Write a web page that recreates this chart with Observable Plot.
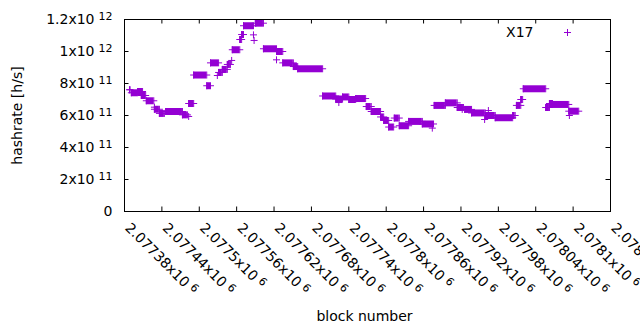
<!DOCTYPE html>
<html><head><meta charset="utf-8">
<script src="https://cdn.jsdelivr.net/npm/d3@7"></script>
<script src="https://cdn.jsdelivr.net/npm/@observablehq/plot@0.6"></script>
<style>body{margin:0;background:#fff;}</style>
</head><body><div id="chart"></div>
<script>
// runs of equal hashrate (block range, value)
const runStart = [2077388,2077391,2077401,2077407,2077415,2077428,2077428,2077436,2077446,2077473,2077483,2077483,2077491,2077512,2077518,2077529,2077531,2077537,2077545,2077552,2077553,2077565,2077568,2077571,2077587,2077588,2077590,2077603,2077624,2077624,2077634,2077651,2077658,2077698,2077719,2077724,2077730,2077740,2077751,2077768,2077776,2077791,2077796,2077804,2077813,2077821,2077836,2077858,2077874,2077877,2077895,2077914,2077922,2077926,2077937,2077958,2077964,2077959,2077975,2078003,2078009,2078016,2078020,2078056,2078062,2078067,2078093,2078094];
const runEnd   = [2077389,2077401,2077409,2077414,2077427,2077428,2077436,2077444,2077473,2077481,2077483,2077491,2077512,2077518,2077531,2077529,2077537,2077545,2077550,2077552,2077565,2077568,2077571,2077587,2077587,2077588,2077603,2077624,2077634,2077624,2077651,2077658,2077698,2077719,2077730,2077724,2077740,2077751,2077767,2077776,2077791,2077796,2077804,2077812,2077821,2077836,2077858,2077876,2077874,2077895,2077914,2077924,2077922,2077937,2077959,2077958,2077964,2077975,2078003,2078007,2078016,2078019,2078056,2078062,2078067,2078093,2078109,2078094];
const runHashrate = [7.61e11,7.42e11,7.50e11,7.25e11,6.92e11,6.52e11,6.39e11,6.13e11,6.25e11,6.04e11,5.94e11,6.75e11,8.53e11,7.86e11,9.29e11,8.50e11,8.69e11,8.88e11,9.19e11,9.44e11,10.11e11,10.75e11,11.06e11,11.61e11,11.04e11,10.69e11,11.77e11,10.17e11,10.00e11,9.48e11,9.29e11,9.06e11,8.92e11,7.22e11,7.03e11,6.81e11,7.16e11,7.00e11,7.06e11,6.56e11,6.25e11,5.91e11,5.69e11,5.28e11,5.84e11,5.36e11,5.63e11,5.47e11,5.21e11,6.63e11,6.79e11,6.50e11,6.38e11,6.38e11,6.16e11,5.75e11,6.31e11,6.00e11,5.86e11,6.00e11,6.63e11,7.00e11,7.67e11,6.50e11,6.75e11,6.69e11,6.27e11,6.00e11];

const xTicks = [2077380,2077440,2077500,2077560,2077620,2077680,2077740,2077800,2077860,2077920,2077980,2078040,2078100,2078160];
const xTickLabels = ["2.07738x10^6","2.07744x10^6","2.0775x10^6","2.07756x10^6","2.07762x10^6","2.07768x10^6","2.07774x10^6","2.0778x10^6","2.07786x10^6","2.07792x10^6","2.07798x10^6","2.07804x10^6","2.0781x10^6","2.07816x10^6"];
const yTicks = [0,2e11,4e11,6e11,8e11,1e12,1.2e12];
const yTickLabels = ["0","2x10^11","4x10^11","6x10^11","8x10^11","1x10^12","1.2x10^12"];
const seriesName = "X17";
const xTitle = "block number";
const yTitle = "hashrate [h/s]";

const runs = runStart.map((s, i) => ({start: s, end: runEnd[i], hashrate: runHashrate[i]}));
const ends = runs.flatMap(r => r.start === r.end
  ? [{block: r.start, hashrate: r.hashrate}]
  : [{block: r.start, hashrate: r.hashrate}, {block: r.end, hashrate: r.hashrate}]);
const xLabelMap = new Map(xTicks.map((t, i) => [t, xTickLabels[i]]));
const yLabelMap = new Map(yTicks.map((t, i) => [t, yTickLabels[i]]));

const plus = {draw(ctx, size) {
  const r = Math.sqrt(size / Math.PI);
  ctx.moveTo(-r, 0); ctx.lineTo(r, 0);
  ctx.moveTo(0, -r); ctx.lineTo(0, r);
}};

const W = 640, H = 330, mt = 19, mb = 119, ml = 124, mr = 30;
const ih = H - mt - mb, iw = W - ml - mr;
const color = "#9400d3";
const font = 14;

const chart = Plot.plot({
  width: W, height: H,
  marginTop: mt, marginBottom: mb, marginLeft: ml, marginRight: mr,
  style: {fontFamily: "DejaVu Sans", fontSize: "14px", color: "black", background: "white", overflow: "visible"},
  x: {domain: [xTicks[0], xTicks[xTicks.length - 1]]},
  y: {domain: [0, 1.2e12]},
  marks: [
    Plot.tickX(xTicks, {x: d => d, insetTop: ih - 4.5, stroke: "black"}),
    Plot.tickX(xTicks, {x: d => d, insetBottom: ih - 4.5, stroke: "black"}),
    Plot.tickY(yTicks, {y: d => d, insetRight: iw - 4.5, stroke: "black"}),
    Plot.tickY(yTicks, {y: d => d, insetLeft: iw - 4.5, stroke: "black"}),
    Plot.axisX({ticks: xTicks, tickSize: 0, tickPadding: 14, tickRotate: 45, textAnchor: "start", lineAnchor: "middle",
      tickFormat: d => xLabelMap.get(d), label: null, dx: 3, fontSize: font, fill: "black"}),
    Plot.axisY({ticks: yTicks, tickSize: 0, tickPadding: 12, tickFormat: d => yLabelMap.get(d), label: null, fontSize: font, fill: "black"}),
    Plot.ruleY(runs, {x1: "start", x2: "end", y: "hashrate", stroke: color, strokeWidth: 7}),
    Plot.dot(ends, {x: "block", y: "hashrate", symbol: plus, r: 3.5, stroke: color, fill: "none", strokeWidth: 1}),
    Plot.frame({stroke: "black"}),
    Plot.text([yTitle], {frameAnchor: "left", dx: -107, rotate: -90, text: d => d, textAnchor: "middle", lineAnchor: "middle", fontSize: font, fill: "black"}),
    Plot.text([xTitle], {frameAnchor: "bottom", dy: 105, dx: -3, text: d => d, lineAnchor: "middle", fontSize: font, fill: "black"}),
    Plot.text([seriesName], {frameAnchor: "top-right", dx: -77, dy: 13, text: d => d, textAnchor: "end", lineAnchor: "middle", fontSize: font, fill: "black"}),
    Plot.dot([seriesName], {frameAnchor: "top-right", dx: -43, dy: 13, symbol: plus, r: 3.5, stroke: color, fill: "none", strokeWidth: 1})
  ]
});

chart.querySelectorAll("text").forEach(t => {
  const s = t.textContent;
  const k = s.indexOf("^");
  if (k < 0) return;
  t.textContent = s.slice(0, k);
  const sp = document.createElementNS("http://www.w3.org/2000/svg", "tspan");
  sp.setAttribute("dx", "4");
  sp.setAttribute("dy", "-4");
  sp.setAttribute("font-size", "11");
  sp.textContent = s.slice(k + 1);
  t.appendChild(sp);
});

document.getElementById("chart").appendChild(chart);
</script>
</body></html>
